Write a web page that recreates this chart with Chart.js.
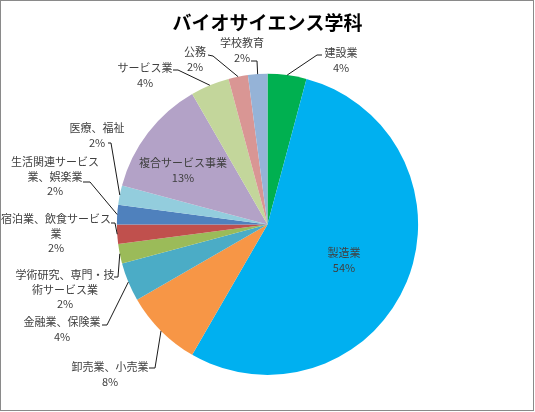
<!DOCTYPE html>
<html>
<head>
<meta charset="utf-8">
<script src="https://cdn.jsdelivr.net/npm/chart.js@4.4.0/dist/chart.umd.min.js"></script>
<style>
  html, body { margin: 0; padding: 0; background: #fff; }
  #wrap { position: relative; width: 535px; height: 412px; }
  #chart { position: absolute; left: 0; top: 0; }
  #frame {
    position: absolute; left: 0; top: 0; width: 534px; height: 411px;
    box-sizing: border-box; border: 1.5px solid #8a8a8a; pointer-events: none;
  }
</style>
</head>
<body>
<div id="wrap">
  <canvas id="chart" width="535" height="412"></canvas>
  <div id="frame"></div>
</div>
<script>
// Data (counts per industry)
const chartTitle = 'バイオサイエンス学科';
const categories = [
  '建設業', '製造業', '卸売業、小売業', '金融業、保険業',
  '学術研究、専門・技術サービス業', '宿泊業、飲食サービス業',
  '生活関連サービス業、娯楽業', '医療、福祉', '複合サービス事業',
  'サービス業', '公務', '学校教育'
];
const counts = [2, 26, 4, 2, 1, 1, 1, 1, 6, 2, 1, 1];
const sliceColors = [
  '#00B050', '#00B0F0', '#F79646', '#4BACC6', '#9BBB59', '#C0504D',
  '#4F81BD', '#93CDDD', '#B3A2C7', '#C3D69B', '#D99694', '#95B3D7'
];

// Label layout: text centre x, first line y, where the text wraps,
// and the leader line start / elbow (null = label sits inside the slice)
const labelLayout = [
  { cx: 341, y: 53,  wrap: [],  anchor: [322, 55], elbow: [317, 55] },
  { cx: 344, y: 253, wrap: [],  anchor: null },
  { cx: 110, y: 367, wrap: [],  anchor: [149, 368], elbow: [155, 368] },
  { cx: 62,  y: 322, wrap: [],  anchor: [102, 325], elbow: [107, 325] },
  { cx: 65,  y: 275, wrap: [9], anchor: [114, 277], elbow: [118, 277] },
  { cx: 56,  y: 219, wrap: [10], anchor: [111, 223], elbow: [115, 223] },
  { cx: 55,  y: 162, wrap: [8], anchor: [83, 182], elbow: [90, 182] },
  { cx: 97,  y: 128, wrap: [],  anchor: [108, 143], elbow: [111, 143] },
  { cx: 183, y: 163, wrap: [],  anchor: null },
  { cx: 145, y: 68,  wrap: [],  anchor: [173, 70], elbow: [178, 70] },
  { cx: 195, y: 52,  wrap: [],  anchor: [208, 55], elbow: [213, 56] },
  { cx: 242, y: 43,  wrap: [],  anchor: [251, 61], elbow: [257, 61] }
];
const lineGap = 14.5;
const labelFont = '11px "Noto Sans CJK JP", "Noto Sans", sans-serif';

function splitLabel(text, breaks) {
  const parts = [];
  let last = 0;
  breaks.forEach(b => { parts.push(text.slice(last, b)); last = b; });
  parts.push(text.slice(last));
  return parts;
}

// Excel-style data labels with leader lines
const pieLabels = {
  id: 'pieLabels',
  afterDatasetsDraw(chart) {
    const ctx = chart.ctx;
    const meta = chart.getDatasetMeta(0);
    const data = chart.data.datasets[0].data;
    const total = data.reduce((a, b) => a + b, 0);

    ctx.save();
    ctx.font = labelFont;
    ctx.textAlign = 'center';
    ctx.textBaseline = 'middle';

    meta.data.forEach((arc, i) => {
      const p = arc.getProps(['x', 'y', 'startAngle', 'endAngle', 'outerRadius'], true);
      const lay = labelLayout[i];
      const lines = splitLabel(chart.data.labels[i], lay.wrap);
      lines.push(Math.round(data[i] / total * 100) + '%');

      ctx.fillStyle = '#404040';
      lines.forEach((t, k) => ctx.fillText(t, lay.cx, lay.y + k * lineGap));

      if (lay.anchor) {
        const mid = (p.startAngle + p.endAngle) / 2;
        const ex = p.x + Math.cos(mid) * p.outerRadius;
        const ey = p.y + Math.sin(mid) * p.outerRadius;
        ctx.strokeStyle = '#1a1a1a';
        ctx.lineWidth = 1;
        ctx.beginPath();
        ctx.moveTo(lay.anchor[0], lay.anchor[1]);
        ctx.lineTo(lay.elbow[0], lay.elbow[1]);
        ctx.lineTo(ex, ey);
        ctx.stroke();
      }
    });
    ctx.restore();
  }
};

const chart = new Chart(document.getElementById('chart'), {
  type: 'pie',
  data: {
    labels: categories,
    datasets: [{
      data: counts,
      backgroundColor: sliceColors,
      borderWidth: 0,
      hoverOffset: 0
    }]
  },
  options: {
    responsive: false,
    animation: false,
    layout: { padding: { top: 0, bottom: 37, left: 100, right: 100 } },
    plugins: {
      legend: { display: false },
      tooltip: { enabled: false },
      title: {
        display: true,
        text: chartTitle,
        color: '#000',
        font: { family: '"Noto Sans CJK JP", sans-serif', size: 19, weight: 'bold', lineHeight: 1.2 },
        padding: { top: 11, bottom: 40 }
      }
    }
  },
  plugins: [pieLabels]
});
</script>
</body>
</html>
